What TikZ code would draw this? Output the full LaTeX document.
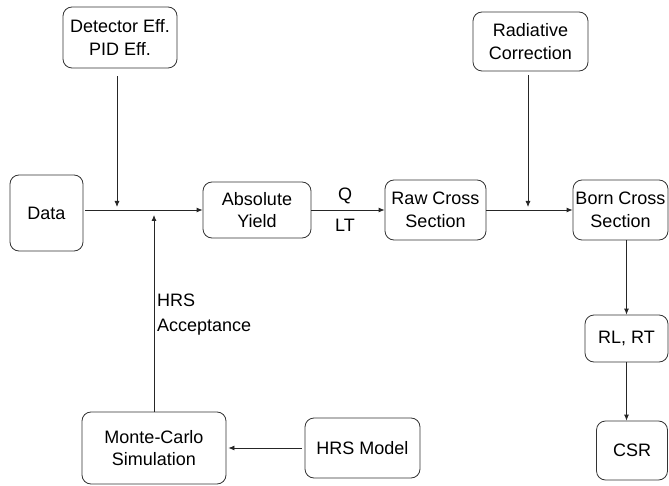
\documentclass[tikz,border=0pt]{standalone}
\usepackage{fontspec}
\setmainfont{Liberation Sans}
\usetikzlibrary{arrows.meta}
\begin{document}
\begin{tikzpicture}[x=1pt,y=-1pt,
  box/.style={draw=black!80, line width=0.8pt, rounded corners=9pt, align=center, inner sep=1pt, font=\fontsize{18}{22.5}\selectfont},
  conn/.style={draw=black!85, line width=0.8pt, -{Latex[length=6pt,width=5pt]}},
  lbl/.style={font=\fontsize{18}{25}\selectfont, inner sep=0pt}]
\useasboundingbox (0,0) rectangle (669,486);
\node[box, minimum width=114pt, minimum height=61pt] (det) at (120,37.5) {Detector Eff.\\PID Eff.};
\node[box, minimum width=115pt, minimum height=59pt] (rad) at (530.5,41.5) {Radiative\\Correction};
\node[box, minimum width=73pt, minimum height=76pt] (data) at (46.5,213) {Data};
\node[box, minimum width=108pt, minimum height=56pt] (abs) at (257,210) {Absolute\\Yield};
\node[box, minimum width=101pt, minimum height=60pt] (raw) at (435.5,210) {Raw Cross\\Section};
\node[box, minimum width=95pt, minimum height=60pt] (born) at (620.5,210) {Born Cross\\Section};
\node[box, minimum width=83pt, minimum height=47pt] (rlrt) at (626.5,338.5) {RL, RT};
\node[box, minimum width=71pt, minimum height=59pt] (csr) at (632,450.5) {CSR};
\node[box, minimum width=144pt, minimum height=72pt] (mc) at (154,448) {Monte-Carlo\\Simulation};
\node[box, minimum width=115pt, minimum height=60pt] (hrs) at (362.5,448) {HRS Model};
\coordinate (j1) at (117,210);
\coordinate (j2) at (154,210);
\coordinate (j3) at (528,210);
\draw[conn, shorten <=2pt] (data.east |- abs.west) -- (abs.west);
\draw[conn, shorten <=8pt, shorten >=3pt] (det.south -| j1) -- (j1);
\draw[conn, shorten >=5pt] (mc.north -| j2) -- (j2);
\draw[conn] (abs.east) -- (abs.east -| raw.west);
\draw[conn] (raw.east) -- (raw.east -| born.west);
\draw[conn, shorten <=4pt, shorten >=3pt] (rad.south -| j3) -- (j3);
\draw[conn] (born.south -| rlrt.north) -- (rlrt.north);
\draw[conn] (rlrt.south) -- (rlrt.south |- csr.north);
\draw[conn, shorten <=3pt, shorten >=2pt] (hrs.west) -- (hrs.west -| mc.east);
\node[lbl] (q) at (345,196) {Q};
\node[lbl] (lt) at (345,225) {LT};
\node[lbl, anchor=west, align=left] (acc) at (157,315) {HRS\\Acceptance};
\end{tikzpicture}
\end{document}
